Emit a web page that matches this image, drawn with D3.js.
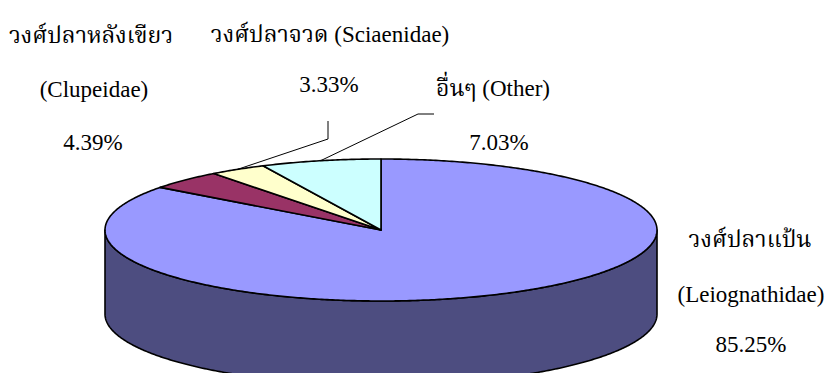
<!DOCTYPE html>
<html>
<head>
<meta charset="utf-8">
<script src="https://cdn.jsdelivr.net/npm/d3@7"></script>
<style>
  html, body { margin: 0; padding: 0; background: #fff; }
  svg { display: block; }
</style>
</head>
<body>
<svg id="chart" width="827" height="373"></svg>
<script>
// Catch composition by fish family (percent)
const families = ["Leiognathidae", "Clupeidae", "Sciaenidae", "Other"];
const thaiNames = ["วงศ์ปลาแป้น", "วงศ์ปลาหลังเขียว", "วงศ์ปลาจวด", "อื่นๆ"];
const shares = [85.25, 4.39, 3.33, 7.03];
const shareLabels = ["85.25%", "4.39%", "3.33%", "7.03%"];

const topColors = ["#9999FF", "#993366", "#FFFFCC", "#CCFFFF"];
const sideColors = ["#4D4D80", "#4D1A33", "#808066", "#668080"];

const svg = d3.select("#chart");

// Elliptical projection of the tilted pie
const cx = 381, cy = 230, rx = 276, ry = 71, depth = 84;

const pie = d3.pie().sort(null).value(d => d.value)
  .startAngle(0).endAngle(2 * Math.PI);
const arcs = pie(families.map((f, i) => ({ family: f, value: shares[i], i })));

// angle measured clockwise from 12 o'clock
const px = (a, dy = 0) => [cx + rx * Math.sin(a), cy - ry * Math.cos(a) + dy];

function ellipseArc(a0, a1, dy = 0) {
  const n = Math.max(2, Math.ceil(Math.abs(a1 - a0) / 0.01));
  return d3.range(n + 1).map(k => px(a0 + (a1 - a0) * k / n, dy));
}

const line = d3.line();

// Outer walls: visible only on the near half (between 3 and 9 o'clock)
const wallG = svg.append("g");
arcs.forEach(d => {
  const a0 = Math.max(d.startAngle, Math.PI / 2);
  const a1 = Math.min(d.endAngle, 3 * Math.PI / 2);
  if (a1 <= a0) return;
  const pts = ellipseArc(a0, a1).concat(ellipseArc(a1, a0, depth));
  wallG.append("path")
    .attr("d", line(pts) + "Z")
    .attr("fill", sideColors[d.data.i])
    .attr("stroke", "#000")
    .attr("stroke-width", 1.6)
    .attr("stroke-linejoin", "round");
});

// Top faces
const topG = svg.append("g");
arcs.forEach(d => {
  const pts = [[cx, cy]].concat(ellipseArc(d.startAngle, d.endAngle));
  topG.append("path")
    .attr("d", line(pts) + "Z")
    .attr("fill", topColors[d.data.i])
    .attr("stroke", "#000")
    .attr("stroke-width", 1.6)
    .attr("stroke-linejoin", "round");
});

// Leader lines for the two narrow slices
const leaders = { 2: [[328, 139], [328, 121]], 3: [[418, 114], [434, 114]] };
Object.keys(leaders).forEach(k => {
  const d = arcs[+k];
  const mid = (d.startAngle + d.endAngle) / 2;
  const start = px(mid);
  svg.append("path")
    .attr("d", line([start].concat(leaders[k])))
    .attr("fill", "none")
    .attr("stroke", "#000")
    .attr("stroke-width", 1);
});

// Labels
const fs = 23;
function label(x, y, str) {
  svg.append("text").attr("x", x).attr("y", y)
    .attr("text-anchor", "middle")
    .style("font-family", '"Liberation Serif", "Noto Serif Thai", serif')
    .style("font-size", fs + "px")
    .style("fill", "#000")
    .text(str);
}

// Leiognathidae
label(750, 247, thaiNames[0]);
label(751, 302, "(" + families[0] + ")");
label(751, 352, shareLabels[0]);
// Clupeidae
label(91, 43, thaiNames[1]);
label(94, 97, "(" + families[1] + ")");
label(93, 150, shareLabels[1]);
// Sciaenidae
label(330, 42, thaiNames[2] + " (" + families[2] + ")");
label(329, 92, shareLabels[2]);
// Other
label(493, 96, thaiNames[3] + " (" + families[3] + ")");
label(499, 150, shareLabels[3]);
</script>
</body>
</html>
